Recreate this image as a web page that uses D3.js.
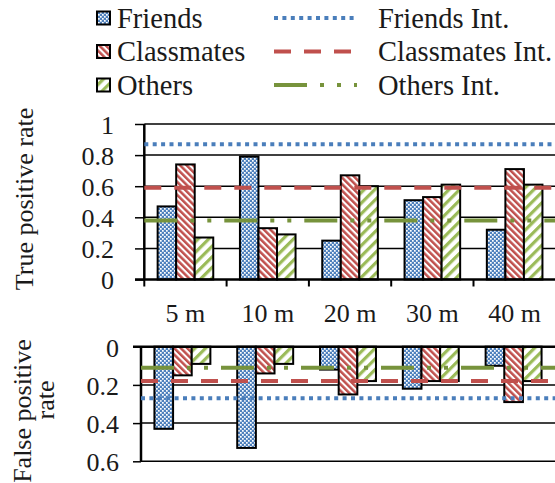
<!DOCTYPE html>
<html>
<head>
<meta charset="utf-8">
<script src="https://cdn.jsdelivr.net/npm/d3@7/dist/d3.min.js"></script>
<style>
  html, body { margin: 0; padding: 0; background: #fff; }
  svg { display: block; }
</style>
</head>
<body>
<svg id="chart" width="555" height="483"></svg>
<script>
// Distance bins
const categories = ["5 m", "10 m", "20 m", "30 m", "40 m"];
const seriesNames = ["Friends", "Classmates", "Others"];

// True positive rate per bin
const tprFriends    = [0.47, 0.79, 0.25, 0.51, 0.32];
const tprClassmates = [0.74, 0.33, 0.67, 0.53, 0.71];
const tprOthers     = [0.27, 0.29, 0.60, 0.61, 0.61];

// False positive rate per bin
const fprFriends    = [0.43, 0.53, 0.12, 0.22, 0.10];
const fprClassmates = [0.15, 0.14, 0.25, 0.18, 0.29];
const fprOthers     = [0.09, 0.09, 0.18, 0.18, 0.18];

// Interaction-based reference levels (Friends, Classmates, Others)
const intNames = ["Friends Int.", "Classmates Int.", "Others Int."];
const tprInt = [0.87, 0.59, 0.38];
const fprInt = [0.27, 0.18, 0.11];

// Tick values
const tprTicks = [0, 0.2, 0.4, 0.6, 0.8, 1];
const fprTicks = [0, 0.2, 0.4, 0.6];

const SERIF = "'Liberation Serif', 'Times New Roman', Times, serif";
const svg = d3.select("#chart").style("font-family", SERIF);
const FONT = 26;
const LEGEND_FONT = 28.5;

function txt(sel, size) {
  return sel.style("font-family", SERIF).attr("fill", "#1a1a1a").attr("font-size", size || FONT);
}

// ---- patterns ----
const defs = svg.append("defs");
const BLUE = "#4f81bd", RED = "#c0504d", GREEN = "#9bbb59";
const LBLUE = "#4a7ebb", LRED = "#c0504d", LGREEN = "#77933c";

const pf = defs.append("pattern").attr("id", "pat-friends")
  .attr("patternUnits", "userSpaceOnUse").attr("width", 4).attr("height", 4);
pf.append("rect").attr("width", 4).attr("height", 4).attr("fill", BLUE);
pf.append("rect").attr("x", 0).attr("y", 0).attr("width", 1.7).attr("height", 1.7).attr("fill", "#fff");
pf.append("rect").attr("x", 2).attr("y", 2).attr("width", 1.7).attr("height", 1.7).attr("fill", "#fff");

const pc = defs.append("pattern").attr("id", "pat-classmates")
  .attr("patternUnits", "userSpaceOnUse").attr("width", 4.6).attr("height", 10)
  .attr("patternTransform", "rotate(-45)");
pc.append("rect").attr("width", 4.6).attr("height", 10).attr("fill", "#fff");
pc.append("rect").attr("width", 2.5).attr("height", 10).attr("fill", RED);

const po = defs.append("pattern").attr("id", "pat-others")
  .attr("patternUnits", "userSpaceOnUse").attr("width", 7.5).attr("height", 10)
  .attr("patternTransform", "rotate(45)");
po.append("rect").attr("width", 7.5).attr("height", 10).attr("fill", "#fff");
po.append("rect").attr("width", 3.2).attr("height", 10).attr("fill", GREEN);

const fills = ["url(#pat-friends)", "url(#pat-classmates)", "url(#pat-others)"];
const lineColors = [LBLUE, LRED, LGREEN];
const lineDash = ["4,4.4", "17,13", "33,13,4,13,4,13"];

// ---- panels ----
function panel(opts) {
  const { x0range, yScale, ticks, data, ints, flip, tickX0, labelGap } = opts;
  const x0 = d3.scaleBand().domain(categories).range(x0range).padding(0);
  const bw = x0.bandwidth();
  const x1 = d3.scaleBand().domain(seriesNames).range([0, bw]).paddingInner(0).paddingOuter(0.72);
  const g = svg.append("g");
  const axisX = x0range[0];
  const xEnd = 556;

  // gridlines (excluding the zero baseline)
  g.selectAll(".grid").data(ticks.filter(t => t !== 0)).join("line")
    .attr("x1", axisX).attr("x2", xEnd)
    .attr("y1", d => yScale(d)).attr("y2", d => yScale(d))
    .attr("stroke", "#000").attr("stroke-width", 1.5);

  // bars
  seriesNames.forEach((s, si) => {
    g.selectAll(".bar" + si).data(data[si]).join("rect")
      .attr("x", (d, i) => x0(categories[i]) + x1(s))
      .attr("width", x1.bandwidth())
      .attr("y", d => flip ? yScale(0) : yScale(d))
      .attr("height", d => Math.abs(yScale(d) - yScale(0)))
      .attr("fill", fills[si])
      .attr("stroke", "#000").attr("stroke-width", 2);
  });

  // zero baseline
  g.append("line").attr("x1", tickX0).attr("x2", xEnd)
    .attr("y1", yScale(0)).attr("y2", yScale(0))
    .attr("stroke", "#000").attr("stroke-width", 2.5);

  // value axis
  const ya = g.append("g").attr("transform", `translate(${axisX},0)`)
    .call(d3.axisLeft(yScale).tickValues(ticks).tickSize(axisX - tickX0)
      .tickFormat(d3.format("~g")).tickPadding(labelGap));
  ya.attr("font-family", null);
  ya.select(".domain").attr("stroke", "#000").attr("stroke-width", 2.5)
    .attr("d", `M0,${yScale(ticks[0])}V${yScale(ticks[ticks.length - 1])}`);
  ya.selectAll(".tick line").attr("stroke", "#000").attr("stroke-width", 1.5);
  txt(ya.selectAll(".tick text")).attr("dy", "0.36em");

  // reference lines
  ints.forEach((v, k) => {
    g.append("line").attr("x1", axisX).attr("x2", xEnd)
      .attr("y1", yScale(v)).attr("y2", yScale(v))
      .attr("stroke", lineColors[k]).attr("stroke-width", 4)
      .attr("stroke-dasharray", lineDash[k]);
  });
  return { x0, g };
}

// Upper panel: true positive rate
const yTop = d3.scaleLinear().domain([0, 1]).range([279.5, 124]);
const upper = panel({
  x0range: [144.3, 555.8], yScale: yTop, ticks: tprTicks,
  data: [tprFriends, tprClassmates, tprOthers], ints: tprInt, flip: false,
  tickX0: 135, labelGap: 21
});
// category separator ticks
upper.g.selectAll(".ct").data(categories).join("line")
  .attr("x1", d => upper.x0(d)).attr("x2", d => upper.x0(d))
  .attr("y1", yTop(0)).attr("y2", yTop(0) + 7)
  .attr("stroke", "#000").attr("stroke-width", 2);
txt(upper.g.selectAll(".cl").data(categories).join("text"))
  .attr("x", d => upper.x0(d) + upper.x0.bandwidth() / 2)
  .attr("y", 322).attr("text-anchor", "middle")
  .text(d => d);

// Lower panel: false positive rate (downward)
const yBot = d3.scaleLinear().domain([0, 0.6]).range([346.7, 461.3]);
panel({
  x0range: [141, 555], yScale: yBot, ticks: fprTicks,
  data: [fprFriends, fprClassmates, fprOthers], ints: fprInt, flip: true,
  tickX0: 133, labelGap: 14
});

// Axis titles
txt(svg.append("text")).attr("transform", "translate(33,199) rotate(-90)")
  .attr("text-anchor", "middle").text("True positive rate");
txt(svg.append("text")).attr("transform", "translate(31,411) rotate(-90)")
  .attr("text-anchor", "middle").text("False positive");
txt(svg.append("text")).attr("transform", "translate(54,400) rotate(-90)")
  .attr("text-anchor", "middle").text("rate");

// Legend
const leg = svg.append("g");
const rowsMid = [18, 51.5, 85];
seriesNames.forEach((s, i) => {
  leg.append("rect").attr("x", 97).attr("y", rowsMid[i] - 6.5).attr("width", 13).attr("height", 13)
    .attr("fill", fills[i]).attr("stroke", "#000").attr("stroke-width", 2);
  txt(leg.append("text"), LEGEND_FONT).attr("x", 117).attr("y", rowsMid[i] + 9.5).text(s);
});
intNames.forEach((s, i) => {
  leg.append("line").attr("x1", 274).attr("x2", 357)
    .attr("y1", rowsMid[i]).attr("y2", rowsMid[i])
    .attr("stroke", lineColors[i]).attr("stroke-width", 4)
    .attr("stroke-dasharray", lineDash[i]);
  txt(leg.append("text"), LEGEND_FONT).attr("x", 378).attr("y", rowsMid[i] + 9.5).text(s);
});
</script>
</body>
</html>
